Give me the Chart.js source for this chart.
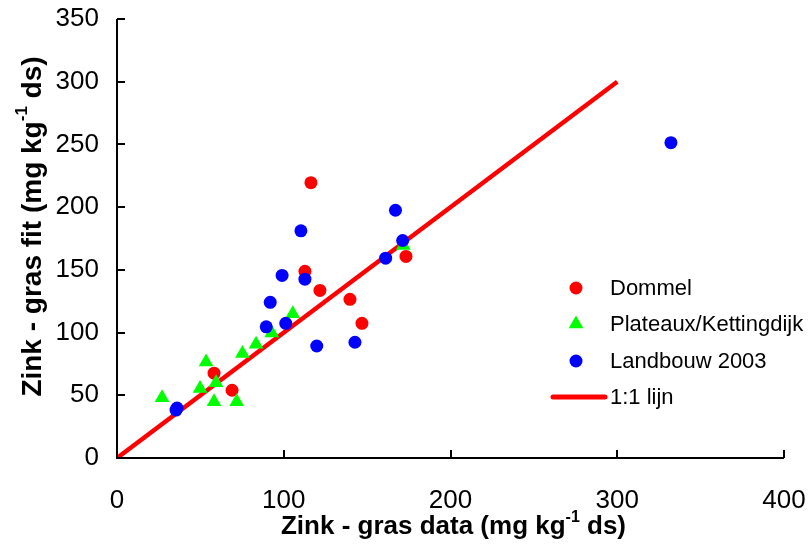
<!DOCTYPE html>
<html>
<head>
<meta charset="utf-8">
<script src="https://cdn.jsdelivr.net/npm/chart.js@4/dist/chart.umd.min.js"></script>
<style>
html,body{margin:0;padding:0;background:#fff;}
#wrap{position:relative;width:808px;height:544px;}
</style>
</head>
<body>
<div id="wrap"><canvas id="c" width="808" height="544"></canvas></div>
<script>
// Data (x = Zink - gras data, y = Zink - gras fit)
const dommelX = [116.3, 112.7, 121.7, 139.7, 146.9, 173.3, 58.2, 69.0];
const dommelY = [219.5, 148.8, 133.6, 126.5, 107.4, 160.7, 67.6, 54.0];

const plateauxX = [27.0, 49.8, 53.4, 58.2, 59.4, 71.8, 75.2, 83.4, 92.8, 105.4, 171.7];
const plateauxY = [48.0, 55.4, 76.6, 44.8, 59.9, 44.8, 83.3, 90.7, 99.7, 115.1, 169.4];

const landbouwX = [167.0, 110.3, 171.3, 161.1, 99.0, 112.7, 91.9, 89.5, 101.2, 119.8, 142.7, 332.2, 36.0, 35.4];
const landbouwY = [197.5, 181.1, 173.4, 159.3, 145.6, 142.6, 124.1, 104.6, 107.4, 89.3, 92.3, 251.4, 39.8, 38.2];

const lineX = [0, 300];
const lineY = [0, 300];

const xTicks = [0, 100, 200, 300, 400];
const yTicks = [0, 50, 100, 150, 200, 250, 300, 350];

const seriesNames = ['Dommel', 'Plateaux/Kettingdijk', 'Landbouw 2003', '1:1 lijn'];
const xTitle = ['Zink - gras data (mg kg', '-1', ' ds)'];
const yTitle = ['Zink - gras fit (mg kg', '-1', ' ds)'];

const pts = (xs, ys) => xs.map((x, i) => ({x: x, y: ys[i]}));

const FONT = '"Liberation Sans", Arial, sans-serif';

const decor = {
  id: 'decor',
  afterDraw(chart) {
    const ctx = chart.ctx;
    const xs = chart.scales.x, ys = chart.scales.y;
    const a = chart.chartArea;
    ctx.save();
    // axes lines
    ctx.strokeStyle = '#000';
    ctx.lineWidth = 2;
    ctx.beginPath();
    ctx.moveTo(a.left, ys.getPixelForValue(350));
    ctx.lineTo(a.left, ys.getPixelForValue(0));
    ctx.lineTo(xs.getPixelForValue(400), ys.getPixelForValue(0));
    ctx.stroke();
    // inward ticks
    ctx.lineWidth = 2;
    ctx.beginPath();
    yTicks.forEach(v => {
      const py = Math.round(ys.getPixelForValue(v));
      ctx.moveTo(a.left, py); ctx.lineTo(a.left + 8, py);
    });
    xTicks.forEach(v => {
      const px = Math.round(xs.getPixelForValue(v));
      ctx.moveTo(px, a.bottom); ctx.lineTo(px, a.bottom - 8);
    });
    ctx.stroke();

    // axis titles with superscript
    function drawSup(parts, size) {
      const f = 'bold ' + size + 'px ' + FONT;
      const fs = 'bold ' + Math.round(size * 0.6) + 'px ' + FONT;
      ctx.font = f; const w1 = ctx.measureText(parts[0]).width;
      const w3 = ctx.measureText(parts[2]).width;
      ctx.font = fs; const w2 = ctx.measureText(parts[1]).width;
      const total = w1 + w2 + w3;
      let x = -total / 2;
      ctx.textBaseline = 'middle';
      ctx.textAlign = 'left';
      ctx.fillStyle = '#000';
      ctx.font = f; ctx.fillText(parts[0], x, 0); x += w1;
      ctx.font = fs; ctx.fillText(parts[1], x, -size * 0.38); x += w2;
      ctx.font = f; ctx.fillText(parts[2], x, 0);
    }
    ctx.save();
    ctx.translate((xs.getPixelForValue(0) + xs.getPixelForValue(400)) / 2 + 3, 527);
    drawSup(xTitle, 26);
    ctx.restore();
    ctx.save();
    ctx.translate(33, (ys.getPixelForValue(0) + ys.getPixelForValue(350)) / 2 - 12);
    ctx.rotate(-Math.PI / 2);
    drawSup(yTitle, 28);
    ctx.restore();

    // legend
    const lx = 576, ly = [288, 324, 361, 397], tx = 610;
    ctx.font = '22px ' + FONT;
    ctx.fillStyle = '#000';
    ctx.textAlign = 'left';
    ctx.textBaseline = 'middle';
    // Dommel
    ctx.fillStyle = '#ff0000';
    ctx.beginPath(); ctx.arc(lx, ly[0], 6.5, 0, Math.PI * 2); ctx.fill();
    // triangle
    ctx.fillStyle = '#00ff00';
    const r = 8.5;
    ctx.beginPath();
    ctx.moveTo(lx, ly[1] - r);
    ctx.lineTo(lx + r * Math.sin(2 * Math.PI / 3), ly[1] + r * 0.5);
    ctx.lineTo(lx - r * Math.sin(2 * Math.PI / 3), ly[1] + r * 0.5);
    ctx.closePath(); ctx.fill();
    // blue
    ctx.fillStyle = '#0000ff';
    ctx.beginPath(); ctx.arc(lx, ly[2], 6.5, 0, Math.PI * 2); ctx.fill();
    // line
    ctx.strokeStyle = '#ff0000'; ctx.lineWidth = 5; ctx.lineCap = 'round';
    ctx.beginPath(); ctx.moveTo(553, ly[3]); ctx.lineTo(605, ly[3]); ctx.stroke();
    ctx.fillStyle = '#000';
    seriesNames.forEach((n, i) => ctx.fillText(n, tx, ly[i] + 1));
    ctx.restore();
  }
};

new Chart(document.getElementById('c'), {
  type: 'scatter',
  data: {
    datasets: [
      {label: seriesNames[2], data: pts(landbouwX, landbouwY), backgroundColor: '#0000ff', borderColor: '#0000ff', pointStyle: 'circle', pointRadius: 6.5, borderWidth: 0, order: 1},
      {label: seriesNames[1], data: pts(plateauxX, plateauxY), backgroundColor: '#00ff00', borderColor: '#00ff00', pointStyle: 'triangle', pointRadius: 8.5, borderWidth: 0, order: 2},
      {label: seriesNames[0], data: pts(dommelX, dommelY), backgroundColor: '#ff0000', borderColor: '#ff0000', pointStyle: 'circle', pointRadius: 6.5, borderWidth: 0, order: 3},
      {label: seriesNames[3], type: 'line', data: pts(lineX, lineY), borderColor: '#ff0000', backgroundColor: '#ff0000', borderWidth: 4.5, pointRadius: 0, showLine: true, fill: false, order: 4}
    ]
  },
  options: {
    responsive: false,
    animation: false,
    devicePixelRatio: 1,
    layout: {padding: {top: 19, right: 24, left: 0, bottom: 0}},
    plugins: {legend: {display: false}, tooltip: {enabled: false}},
    scales: {
      x: {
        type: 'linear', min: 0, max: 400,
        afterBuildTicks: s => { s.ticks = xTicks.map(v => ({value: v})); },
        afterFit: s => { s.height = 86; s.paddingLeft = 0; s.paddingRight = 0; },
        grid: {display: false, drawTicks: false},
        border: {display: false},
        ticks: {color: '#000', font: {family: FONT, size: 26}, padding: 27, maxRotation: 0, autoSkip: false}
      },
      y: {
        type: 'linear', min: 0, max: 350,
        afterBuildTicks: s => { s.ticks = yTicks.map(v => ({value: v})); },
        afterFit: s => { s.width = 117; s.paddingTop = 0; s.paddingBottom = 0; },
        grid: {display: false, drawTicks: false},
        border: {display: false},
        ticks: {color: '#000', font: {family: FONT, size: 26}, padding: 18, autoSkip: false}
      }
    }
  },
  plugins: [decor]
});
</script>
</body>
</html>
